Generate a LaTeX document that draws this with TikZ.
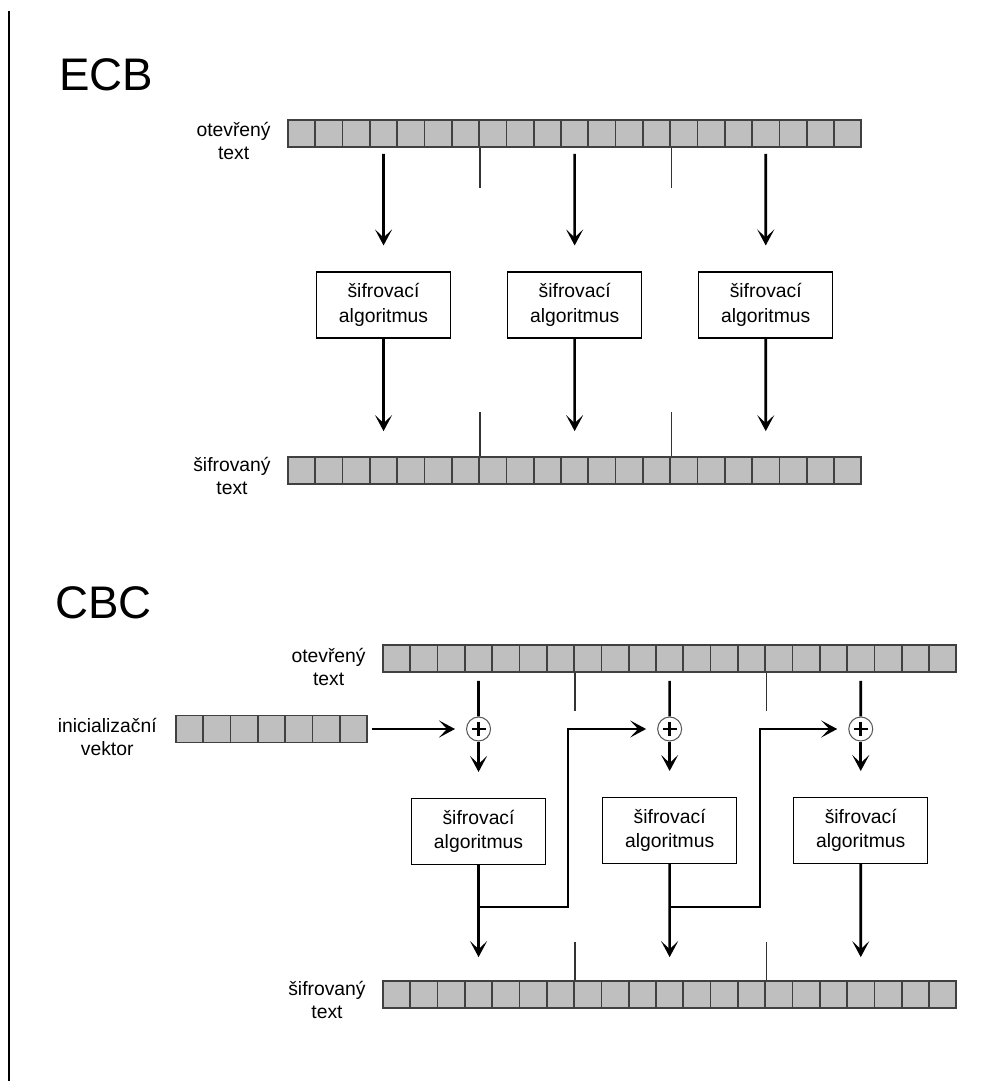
\documentclass[tikz,border=0pt]{standalone}
\usepackage{fontspec}
\setmainfont{Liberation Sans}
\usetikzlibrary{arrows.meta}

\begin{document}
\begin{tikzpicture}[x=0.02cm,y=-0.02cm,
  cell/.style={rectangle,draw=black!75,fill=black!25,line width=1pt,minimum width=0.546cm,minimum height=0.54cm,inner sep=0pt},
  alg node/.style={rectangle,draw,line width=0.6pt,fill=white,minimum width=2.68cm,minimum height=1.32cm,align=center,font=\fontsize{11}{14}\selectfont},
  label node/.style={anchor=east,inner sep=0pt,align=center,font=\fontsize{11}{13.5}\selectfont},
  title node/.style={anchor=base west,inner sep=0pt,font=\fontsize{26}{30}\selectfont},
  xor node/.style={circle,draw=black!65,line width=0.6pt,fill=white,minimum size=0.48cm,inner sep=0pt,
    path picture={\draw[black,line width=1.6pt]
      ([xshift=-0.14cm]path picture bounding box.center) -- ([xshift=0.14cm]path picture bounding box.center)
      ([yshift=-0.14cm]path picture bounding box.center) -- ([yshift=0.14cm]path picture bounding box.center);}},
  arr/.style={-{Stealth[length=0.32cm,width=0.34cm,inset=0.16cm]},line width=1.5pt},
  flow/.style={line width=1.5pt},
  sep/.style={line width=0.6pt,black!80}]

  \useasboundingbox (0,0) rectangle (997,1081);
  \draw[line width=0.9pt] (9,11) -- (9,1081);

  % ECB
  \node[title node] (ecb) at (59,91) {ECB};
  \foreach \i in {1,...,21} {
    \node[cell] (ep\i) at (288+27.3*\i-13.65,133.5) {};
    \node[cell] (ec\i) at (288+27.3*\i-13.65,470.5) {};
  }
  \node[label node] (eplab) at (271,141) {otevřený\\text};
  \node[label node] (eclab) at (271,476) {šifrovaný\\text};
  \draw[sep] (ep7.south east) -- ++(0,40);
  \draw[sep] (ep14.south east) -- ++(0,40);
  \draw[sep] (ec7.north east) -- ++(0,-44);
  \draw[sep] (ec14.north east) -- ++(0,-44);

  \node[alg node] (ealg1) at (383.55,305) {šifrovací\\algoritmus};
  \node[alg node] (ealg2) at (574.65,305) {šifrovací\\algoritmus};
  \node[alg node] (ealg3) at (765.75,305) {šifrovací\\algoritmus};

  \path[arr,shorten <=0.12cm,shorten >=0.52cm]
   (ep4.south) edge (ealg1.north)
   (ep11.south) edge (ealg2.north)
   (ep18.south) edge (ealg3.north);
  \path[arr,shorten >=0.5cm]
   (ealg1.south) edge (ec4.north)
   (ealg2.south) edge (ec11.north)
   (ealg3.south) edge (ec18.north);

  % CBC
  \node[title node] (cbc) at (55,618) {CBC};
  \foreach \i in {1,...,21} {
    \node[cell] (cp\i) at (383+27.3*\i-13.65,658.5) {};
    \node[cell] (cc\i) at (383+27.3*\i-13.65,994.5) {};
  }
  \foreach \i in {1,...,7}
    \node[cell] (iv\i) at (176+27.3*\i-13.65,729) {};
  \node[label node] (cplab) at (366,667) {otevřený\\text};
  \node[label node] (cclab) at (366,1000) {šifrovaný\\text};
  \node[label node] (ivlab) at (157,737) {inicializační\\vektor};
  \draw[sep] (cp7.south east) -- ++(0,38);
  \draw[sep] (cp14.south east) -- ++(0,38);
  \draw[sep] (cc7.north east) -- ++(0,-38);
  \draw[sep] (cc14.north east) -- ++(0,-38);

  \node[xor node] (cx1) at (478.55,729) {};
  \node[xor node] (cx2) at (669.65,729) {};
  \node[xor node] (cx3) at (860.75,729) {};

  \node[alg node] (calg1) at (478.55,831.5) {šifrovací\\algoritmus};
  \node[alg node] (calg2) at (669.65,830.5) {šifrovací\\algoritmus};
  \node[alg node] (calg3) at (860.75,830.5) {šifrovací\\algoritmus};

  \path[flow,shorten <=0.16cm]
   (cp4.south) edge (cx1.north)
   (cp11.south) edge (cx2.north)
   (cp18.south) edge (cx3.north);
  \path[arr,shorten >=0.52cm]
   (cx1.south) edge (calg1.north)
   (cx2.south) edge (calg2.north)
   (cx3.south) edge (calg3.north);
  \path[arr,shorten >=0.46cm]
   (calg1.south) edge (cc4.north)
   (calg2.south) edge (cc11.north)
   (calg3.south) edge (cc18.north);
  \draw[arr,shorten <=0.08cm,shorten >=0.22cm] (iv7.east) -- (cx1.west);

  \coordinate (fb1) at (478.55,907);
  \coordinate (fb2) at (669.65,907);
  \draw[arr,shorten >=0.22cm] (fb1) -| (568,729) -- (cx2.west);
  \draw[arr,shorten >=0.22cm] (fb2) -| (760,729) -- (cx3.west);
\end{tikzpicture}
\end{document}
